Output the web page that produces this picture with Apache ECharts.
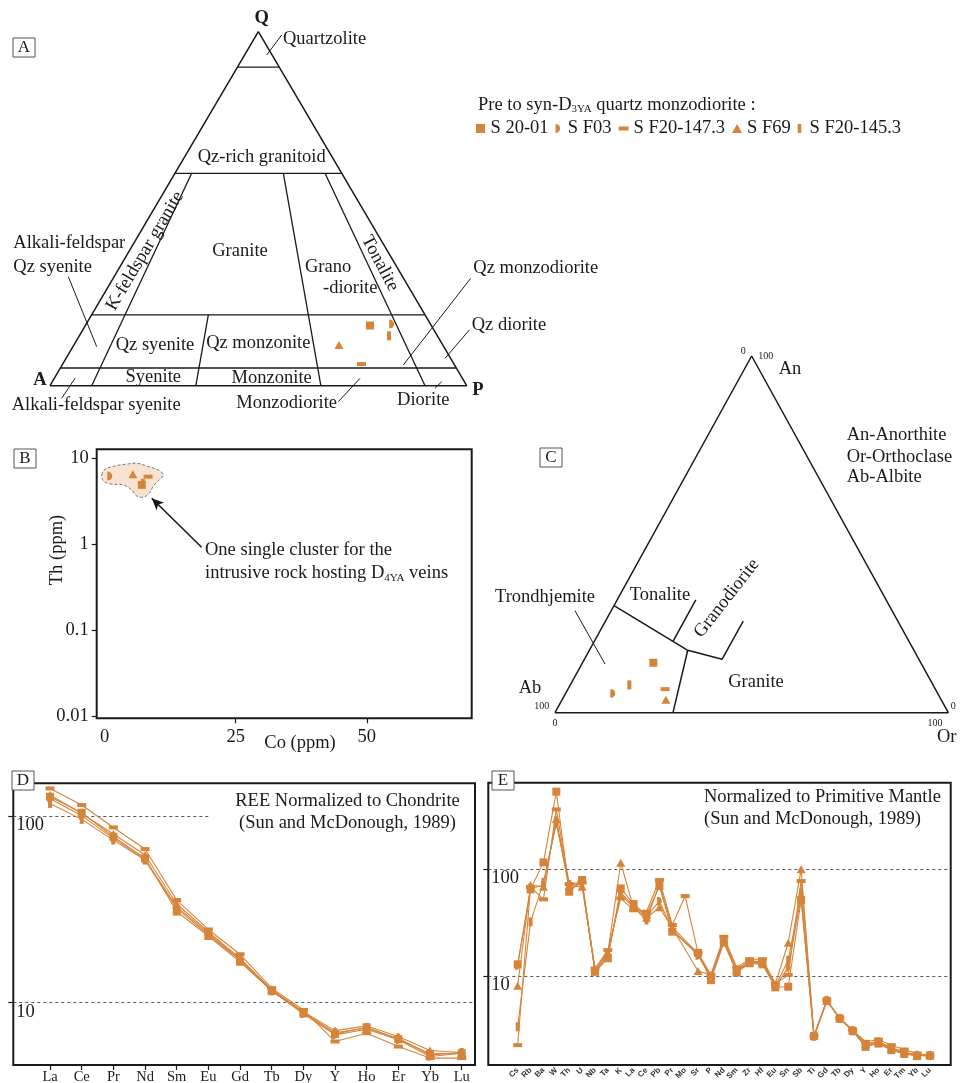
<!DOCTYPE html>
<html>
<head>
<meta charset="utf-8">
<script src="https://cdn.jsdelivr.net/npm/echarts@6/dist/echarts.min.js"></script>
<style>
  html, body { margin: 0; padding: 0; background: #fff; }
  #chart { width: 960px; height: 1083px; }
</style>
</head>
<body>
<div id="chart"></div>
<script>
// samples, same order everywhere
const sampleNames = ['S 20-01', 'S F03', 'S F20-147.3', 'S F69', 'S F20-145.3'];

// A - QAP modal composition (%)
const qapQ = [17.0, 17.4, 6.1, 11.5, 14.1];
const qapA = [14.7, 9.3, 22.2, 24.9, 11.6];
const qapP = [68.3, 73.3, 71.7, 63.6, 74.3];

// B - Th vs Co (ppm)
const coPpm = [7.1, 1.0, 8.3, 5.4, 7.3];
const thPpm = [4.9, 6.2, 6.1, 6.5, 5.1];
// outline of the cluster (Co, Th)
const clusterCo = [-0.55, 0.08, 1.98, 4.52, 6.12, 8.03, 10.43, 11.19, 10.43, 9.42, 8.52, 7.38, 6.12, 5.17, 3.57, 1.03, -0.25];
const clusterTh = [6.39, 7.45, 8.13, 8.59, 8.75, 8.13, 7.18, 6.39, 5.59, 4.89, 3.91, 3.52, 3.64, 4.28, 4.89, 5.02, 5.48];

// C - normative An-Ab-Or (%)
const normAn = [14.0, 5.4, 6.6, 3.6, 7.8];
const normAb = [68.0, 82.6, 68.7, 70.0, 77.2];
const normOr = [18.0, 12.0, 24.7, 26.4, 15.0];

// D - REE / chondrite
const reeElements = ['La', 'Ce', 'Pr', 'Nd', 'Sm', 'Eu', 'Gd', 'Tb', 'Dy', 'Y', 'Ho', 'Er', 'Yb', 'Lu'];
const reeS2001    = [127, 104.2, 77.4, 59.3, 30.7, 22.7, 16.5, 11.5, 8.7, 6.76, 7.34, 6.33, 5.28, 5.32];
const reeSF03     = [124.4, 100.5, 75.9, 58.5, 32.6, 23.4, 17.0, 11.6, 8.7, 6.68, 7.16, 6.28, 5.11, 5.32];
const reeSF201473 = [140.8, 114.6, 86.9, 66.5, 35.4, 24.6, 18.1, 11.9, 9.09, 6.15, 6.82, 5.78, 5.01, 5.01];
const reeSF69     = [129.7, 103.3, 80.1, 61.8, 33.7, 23.9, 17.2, 11.7, 8.9, 7.04, 7.46, 6.54, 5.50, 5.37];
const reeSF201453 = [117, 96, 74.3, 58.0, 31.9, 23.0, 16.9, 11.5, 8.8, 6.87, 7.25, 6.41, 5.21, 5.37];

// E - trace elements / primitive mantle
const pmElements = ['Cs', 'Rb', 'Ba', 'W', 'Th', 'U', 'Nb', 'Ta', 'K', 'La', 'Ce', 'Pb', 'Pr', 'Mo', 'Sr', 'P', 'Nd',
  'Sm', 'Zr', 'Hf', 'Eu', 'Sn', 'Sb', 'Ti', 'Gd', 'Tb', 'Dy', 'Y', 'Ho', 'Er', 'Tm', 'Yb', 'Lu'];
const pmS2001    = [12.8, 64.5, 115.5, 531, 61.3, 78.9, 10.9, 14.6, 65.9, 47, 37.1, 69.3, 25.9, null, 16.4, 9.1, 20.5,
  10.7, 13.1, 12.8, 7.8, 7.9, 51.2, 2.72, 5.83, 3.98, 3.05, 2.16, 2.32, 2.01, 1.85, 1.77, 1.79];
const pmSF03     = [12.5, 66, 70, 280, 65, 74, 11.0, 15.5, 60, 45, 36, 50, 27, null, 15.5, 9.6, 21,
  11.0, 13.3, 13.0, 7.9, 12, 55, 2.72, 5.83, 3.98, 3.05, 2.2, 2.35, 2.05, 1.88, 1.78, 1.79];
const pmSF201473 = [2.24, 68, 52, 362, 72.3, 75, 11.7, 17.4, 53.1, 41.3, 39.8, 78.9, 29.9, 55.8, 16.4, 10.2, 23.2,
  12.0, 14.3, 14.3, 8.4, 10.2, 77.2, 2.72, 5.9, 4.0, 3.1, 2.41, 2.53, 2.24, 2.04, 1.87, 1.79];
const pmSF69     = [8.06, 70.8, 68.3, 292, 70, 68.3, 11.7, 16.5, 114.6, 43, 35, 43.8, 28, null, 11.1, 10.2, 22,
  11.5, 13.8, 13.5, 8.4, 20.4, 99.4, 2.75, 5.9, 4.0, 3.1, 2.3, 2.45, 2.1, 1.95, 1.8, 1.79];
const pmSF201453 = [3.33, 32, 75, 268, 72, 72, 11.2, 16.0, 57, 44, 33.3, 72, 28.5, null, 16.0, 9.8, 21.5,
  11.2, 13.5, 13.2, 8.0, 14.0, 60, 2.72, 5.85, 3.98, 3.05, 2.25, 2.4, 2.08, 1.9, 1.8, 1.79];

// field boundaries, QAP: horizontal Q levels and [Q from, Q to, P/(A+P)]
const qapHorizontal = [90, 60, 20, 5];
const qapRatioLines = [[60, 0, 0.10], [20, 0, 0.35], [60, 0, 0.65], [60, 0, 0.90]];
// An-Ab-Or fields (An, Or pairs)
const anOrLines = [
  [[30, 0], [20, 20], [17.5, 25], [15, 35], [25.7, 35]],
  [[20, 20], [31.6, 20]],
  [[17.5, 25], [0, 30]]
];

const SERIF = '"Liberation Serif", "Times New Roman", serif';
const SANS = '"Liberation Sans", Arial, sans-serif';
const ORANGE = '#d5843a';
const INK = '#1a1a1a';
const FS = 18.5;
const halfPath = 'path://M0,0A10,10 0 0 1 0,20Z';
const symbols = ['rect', halfPath, 'rect', 'triangle', 'rect'];
const symSizes = [[8, 8], [5, 9], [9, 4], [9, 8], [4, 9]];
const legendIcons = ['path://M0,0H10V10H0Z', halfPath, 'path://M0,0H10V4H0Z', 'path://M5,0L10,9H0Z', 'path://M0,0H4V10H0Z'];

// ternary -> plane, A at left, P at right, Q on top
function qapXY(q, a, p) {
  const s = q + a + p;
  return [(p + q / 2) / s * 100, q / s * 100];
}
function qrXY(q, r) { return [q / 2 + r * (100 - q), q]; }
// Ab at left, Or at right, An on top
function anOrXY(an, or) { return [or + an / 2, an]; }

const series = [];

function edge(axis, pts, w) {
  series.push({
    type: 'line', xAxisIndex: axis, yAxisIndex: axis, data: pts, symbol: 'none',
    lineStyle: { color: INK, width: w || 1.3 }, silent: true, clip: false, z: 2
  });
}

// A frame and fields
edge(0, [qrXY(0, 0), qrXY(0, 1), qrXY(100, 0), qrXY(0, 0)], 1.5);
qapHorizontal.forEach(q => edge(0, [qrXY(q, 0), qrXY(q, 1)]));
qapRatioLines.forEach(l => edge(0, [qrXY(l[0], l[2]), qrXY(l[1], l[2])]));

// C frame and fields
edge(2, [anOrXY(0, 0), anOrXY(0, 100), anOrXY(100, 0), anOrXY(0, 0)], 1.5);
anOrLines.forEach(l => edge(2, l.map(p => anOrXY(p[0], p[1])), 1.5));

// sample points on A, B, C
sampleNames.forEach((name, i) => {
  const common = { type: 'scatter', name, symbol: symbols[i], symbolSize: symSizes[i],
    itemStyle: { color: ORANGE, opacity: 1 }, z: 5, silent: true };
  series.push(Object.assign({}, common, { xAxisIndex: 0, yAxisIndex: 0, data: [qapXY(qapQ[i], qapA[i], qapP[i])] }));
  series.push(Object.assign({}, common, { xAxisIndex: 1, yAxisIndex: 1, data: [[coPpm[i], thPpm[i]]] }));
  series.push(Object.assign({}, common, { xAxisIndex: 2, yAxisIndex: 2, data: [anOrXY(normAn[i], normOr[i])] }));
});

// cluster in B
series.push({
  type: 'custom', xAxisIndex: 1, yAxisIndex: 1, silent: true, z: 3,
  data: [[clusterCo[0], clusterTh[0]]],
  renderItem: (params, api) => ({
    type: 'polygon',
    shape: { points: clusterCo.map((c, k) => api.coord([c, clusterTh[k]])), smooth: 0.35 },
    style: { fill: '#f8e3d2', stroke: '#777', lineWidth: 1, lineDash: [3, 2] }
  })
});
// arrow in B
series.push({
  type: 'scatter', xAxisIndex: 1, yAxisIndex: 1, data: [], silent: true,
  markLine: {
    silent: true, symbol: ['none', 'arrow'], symbolSize: [8, 12], label: { show: false },
    lineStyle: { color: INK, width: 1.6, type: 'solid' },
    data: [[{ coord: [18.5, 0.92] }, { coord: [9.0, 3.42] }]]
  }
});

// spider diagrams
const dashed = { color: '#555', width: 1, type: [3, 3] };
function spider(axis, valuesBySample, mark) {
  valuesBySample.forEach((vals, i) => {
    const s = {
      type: 'line', name: sampleNames[i], xAxisIndex: axis, yAxisIndex: axis,
      data: vals.map((v, k) => [k, v]), connectNulls: true,
      symbol: symbols[i], symbolSize: symSizes[i], showAllSymbol: true,
      itemStyle: { color: ORANGE }, lineStyle: { color: ORANGE, width: 1.1 }, z: 4, silent: true
    };
    if (i === 0) s.markLine = { silent: true, symbol: 'none', label: { show: false }, lineStyle: dashed, data: mark, z: 1 };
    series.push(s);
  });
}
spider(3, [reeS2001, reeSF03, reeSF201473, reeSF69, reeSF201453],
  [{ yAxis: 10 }, [{ coord: [-1.16, 100] }, { coord: [5, 100] }]]);
spider(4, [pmS2001, pmSF03, pmSF201473, pmSF69, pmSF201453], [{ yAxis: 10 }, { yAxis: 100 }]);

const hidden = { type: 'value', min: 0, max: 100, show: false };
const noLine = { show: false, onZero: false };
const tick = { inside: false, length: 5, lineStyle: { color: INK, width: 1.2 } };
const reeIdx = reeElements.map((e, k) => k);
const pmIdx = pmElements.map((e, k) => k);

// annotation helpers
function txt(str, x, y, o) {
  o = o || {};
  return {
    type: 'text', x, y, rotation: (o.rot || 0) * Math.PI / 180, silent: true, z: 10,
    style: {
      text: str, fill: INK, fontFamily: o.font || SERIF, fontSize: o.size || FS,
      fontWeight: o.bold ? 'bold' : 'normal', align: o.align || 'center', verticalAlign: 'middle', rich: o.rich
    }
  };
}
function seg(x1, y1, x2, y2, w) {
  return { type: 'line', silent: true, z: 10, shape: { x1, y1, x2, y2 }, style: { stroke: INK, lineWidth: w || 1 } };
}
function box(letter, x, y) {
  return [
    { type: 'rect', silent: true, z: 10, shape: { x, y, width: 22, height: 19 }, style: { fill: '#fff', stroke: '#555', lineWidth: 1 } },
    txt(letter, x + 11, y + 10, { size: 17 })
  ];
}
const subRich = {
  t: { fontFamily: SERIF, fontSize: FS, fill: INK },
  s: { fontFamily: SERIF, fontSize: 11, fill: INK, padding: [9, 0, 0, 0] }
};

const graphic = [].concat(
  box('A', 13, 38), box('B', 14, 449), box('C', 540, 448), box('D', 12, 771), box('E', 492, 771),
  [
    // A labels
    txt('Q', 261.7, 18, { bold: true }),
    txt('Quartzolite', 283, 39, { align: 'left' }), seg(281.7, 35, 266.7, 55),
    txt('Qz-rich granitoid', 261.7, 156.7),
    txt('K-feldspar granite', 145, 251, { rot: 59.4 }),
    txt('Granite', 240, 250.7),
    txt('Grano', 305, 266.7, { align: 'left' }), txt('-diorite', 323, 288.3, { align: 'left' }),
    txt('Tonalite', 380, 263.3, { rot: -62 }),
    txt('Alkali-feldspar', 13.3, 243, { align: 'left' }), txt('Qz syenite', 13.3, 266.7, { align: 'left' }),
    seg(68.3, 276.7, 96.7, 346.7),
    txt('Qz syenite', 155, 345), txt('Qz monzonite', 258.3, 343.3),
    txt('Syenite', 153.3, 377.3), txt('Monzonite', 271.7, 378.3),
    txt('A', 40, 380, { bold: true }), txt('P', 478, 390, { bold: true }),
    txt('Alkali-feldspar syenite', 11.7, 405, { align: 'left' }), seg(75, 378.3, 61.7, 398.3),
    txt('Monzodiorite', 286.7, 403.3), seg(338.3, 401.7, 360, 378.3),
    txt('Diorite', 423.3, 400), seg(435, 388.3, 441.7, 381.7),
    txt('Qz monzodiorite', 473.3, 268.3, { align: 'left' }), seg(403.3, 365, 470.7, 278.3),
    txt('Qz diorite', 471.7, 325, { align: 'left' }), seg(445, 358.3, 469.3, 330),
    txt('{t|Pre to syn-D}{s|3YA}{t| quartz monzodiorite :}', 478, 105, { align: 'left', rich: subRich }),
    // B labels
    txt('Th (ppm)', 56.7, 550, { rot: 90 }),
    txt('Co (ppm)', 300, 743.3),
    txt('One single cluster for the', 205, 550, { align: 'left' }),
    txt('{t|intrusive rock hosting D}{s|4YA}{t| veins}', 205, 573.3, { align: 'left', rich: subRich }),
    // C labels
    txt('An-Anorthite', 846.7, 435, { align: 'left' }),
    txt('Or-Orthoclase', 846.7, 456.7, { align: 'left' }),
    txt('Ab-Albite', 846.7, 477.3, { align: 'left' }),
    txt('Trondhjemite', 545, 596.7), seg(575, 610.7, 605, 664),
    txt('Tonalite', 660, 595),
    txt('Granodiorite', 726.7, 598.3, { rot: 52 }),
    txt('Granite', 756, 681.7),
    txt('An', 790, 369.3), txt('0', 743.3, 351, { size: 10 }), txt('100', 765.8, 356, { size: 10 }),
    txt('Ab', 530, 688.3), txt('100', 541.7, 706, { size: 10 }), txt('0', 555, 723.3, { size: 10 }),
    txt('Or', 946.7, 736.7), txt('100', 935, 723.3, { size: 10 }), txt('0', 953.3, 706, { size: 10 }),
    // D, E notes
    txt('REE Normalized to Chondrite', 347.5, 800.7),
    txt('(Sun and McDonough, 1989)', 347.5, 823.3),
    txt('Normalized to Primitive Mantle', 704, 796.7, { align: 'left' }),
    txt('(Sun and McDonough, 1989)', 704, 819.3, { align: 'left' })
  ]
);

const chart = echarts.init(document.getElementById('chart'), null, { renderer: 'canvas' });
chart.setOption({
  backgroundColor: '#fff',
  animation: false,
  tooltip: { show: false },
  legend: {
    data: sampleNames.map((n, i) => ({ name: n, icon: legendIcons[i] })),
    left: 476, top: 119, padding: 0, itemWidth: 10, itemHeight: 9, itemGap: 7,
    selectedMode: false, orient: 'horizontal',
    textStyle: { fontFamily: SERIF, fontSize: FS, color: INK }
  },
  grid: [
    { left: 50, top: 31.7, width: 416.7, height: 354, outerBoundsMode: 'none' },
    { left: 96.7, top: 449.3, width: 375, height: 269, show: true, borderColor: INK, borderWidth: 2, backgroundColor: 'transparent', outerBoundsMode: 'none' },
    { left: 555, top: 356, width: 393.3, height: 356.7, outerBoundsMode: 'none' },
    { left: 13.3, top: 783.3, width: 461.7, height: 281.7, show: true, borderColor: INK, borderWidth: 2, backgroundColor: 'transparent', outerBoundsMode: 'none' },
    { left: 488.3, top: 782.7, width: 462.4, height: 282.3, show: true, borderColor: INK, borderWidth: 2, backgroundColor: 'transparent', outerBoundsMode: 'none' }
  ],
  xAxis: [
    Object.assign({ gridIndex: 0 }, hidden),
    {
      gridIndex: 1, type: 'value', min: -1.5, max: 70,
      axisLine: noLine, splitLine: { show: false },
      axisTick: Object.assign({ customValues: [25, 50] }, tick),
      axisLabel: { customValues: [0, 25, 50], fontFamily: SERIF, fontSize: FS, color: INK, margin: 9 }
    },
    Object.assign({ gridIndex: 2 }, hidden),
    {
      gridIndex: 3, type: 'value', min: -1.16, max: 13.42,
      axisLine: noLine, splitLine: { show: false },
      axisTick: Object.assign({ customValues: reeIdx }, tick),
      axisLabel: { customValues: reeIdx, formatter: v => reeElements[Math.round(v)], fontFamily: SERIF, fontSize: 14.5, color: INK, margin: 5 }
    },
    {
      gridIndex: 4, type: 'value', min: -2.28, max: 33.61,
      axisLine: noLine, splitLine: { show: false }, axisTick: { show: false },
      axisLabel: { customValues: pmIdx, formatter: v => pmElements[Math.round(v)], rotate: 45,
        fontFamily: SANS, fontSize: 8, fontWeight: 'bold', color: '#333', margin: 4 }
    }
  ],
  yAxis: [
    Object.assign({ gridIndex: 0 }, hidden),
    {
      gridIndex: 1, type: 'log', logBase: 10, min: 0.0094, max: 12.7,
      axisLine: noLine, splitLine: { show: false },
      axisTick: Object.assign({ customValues: [0.01, 0.1, 1, 10] }, tick),
      axisLabel: { customValues: [0.01, 0.1, 1, 10], formatter: v => String(+(+v).toPrecision(3)),
        fontFamily: SERIF, fontSize: FS, color: INK, margin: 8 }
    },
    Object.assign({ gridIndex: 2 }, hidden),
    {
      gridIndex: 3, type: 'log', logBase: 10, min: 4.6, max: 150,
      axisLine: noLine, splitLine: { show: false },
      axisTick: Object.assign({ customValues: [10, 100] }, tick),
      axisLabel: { customValues: [10, 100], formatter: v => String(Math.round(v)), inside: true, verticalAlign: 'top',
        fontFamily: SERIF, fontSize: FS, color: INK, margin: 3 }
    },
    {
      gridIndex: 4, type: 'log', logBase: 10, min: 1.46, max: 644,
      axisLine: noLine, splitLine: { show: false },
      axisTick: Object.assign({ customValues: [10, 100] }, tick),
      axisLabel: { customValues: [10, 100], formatter: v => String(Math.round(v)), inside: true, verticalAlign: 'top',
        fontFamily: SERIF, fontSize: FS, color: INK, margin: 3 }
    }
  ],
  series: series,
  graphic: graphic
});
</script>
</body>
</html>
